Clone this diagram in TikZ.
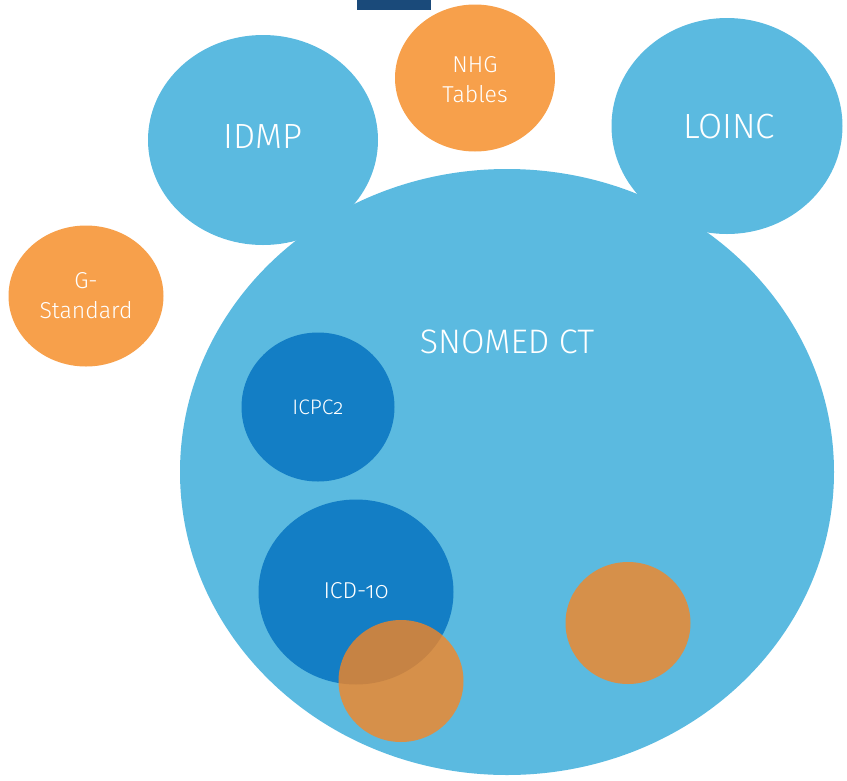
\documentclass[tikz,border=0pt]{standalone}
\usetikzlibrary{shapes.geometric}
\usepackage{fontspec}
\setmainfont{Fira Sans Light}[Numbers=OldStyle]
\definecolor{lblue}{RGB}{91,186,224}
\definecolor{dblue}{RGB}{19,126,197}
\definecolor{orng}{RGB}{247,160,75}
\definecolor{torng}{RGB}{249,133,32}
\definecolor{navy}{RGB}{26,74,122}
\tikzset{
  blob/.style={ellipse, inner sep=0pt, draw=none, text=white, align=center},
  big/.style={font=\fontsize{35}{40}\selectfont},
  mid/.style={font=\fontsize{23}{30}\selectfont},
  sml/.style={font=\fontsize{21}{30}\selectfont},
}
\begin{document}
\begin{tikzpicture}[x=1pt,y=-1pt]
\useasboundingbox (0,0) rectangle (847,780);
\fill[navy] (357,0) rectangle (431,10);
\fill[lblue] (507,472) ellipse [x radius=327, y radius=303];
\node[blob, fill=lblue, minimum width=230, minimum height=210, big] (idmp) at (263,140) {};
\node[blob, fill=lblue, minimum width=231, minimum height=216, big] (loinc) at (727,126) {};
\node[blob, fill=orng, minimum width=160, minimum height=147] (nhg) at (475,78) {};
\node[blob, fill=orng, minimum width=155, minimum height=141] (gst) at (86,296) {};
\node[blob, fill=dblue, minimum width=153, minimum height=149] (icpc) at (318,407) {};
\node[blob, fill=dblue, minimum width=195, minimum height=185] (icd) at (356,592) {};
\node[blob, fill=torng, fill opacity=0.78, minimum width=125, minimum height=122] (o1) at (401,681) {};
\node[blob, fill=torng, fill opacity=0.78, minimum width=125, minimum height=122] (o2) at (628,623) {};
\node[text=white, font=\fontsize{34}{40}\selectfont] (snomedt) at (507,342) {SNOMED CT};
\node[text=white, big] (idmpt) at (263,137) {IDMP};
\node[text=white, big] (loinct) at (729,127) {LOINC};
\node[text=white, mid, align=center] (nhgt) at (475,80) {NHG\\Tables};
\node[text=white, mid, align=center] (gstt) at (86,296) {G-\\Standard};
\node[text=white, sml] (icpct) at (318,407) {ICPC2};
\node[text=white, mid] (icdt) at (356,591) {ICD-10};
\end{tikzpicture}
\end{document}
